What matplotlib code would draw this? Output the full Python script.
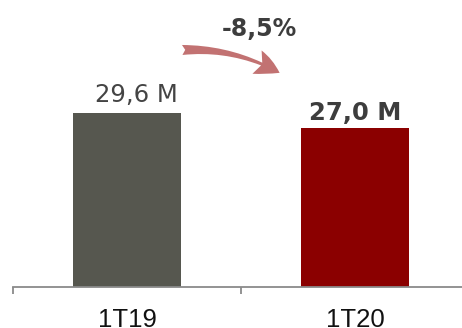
import matplotlib
matplotlib.use('Agg')
import matplotlib.pyplot as plt
from matplotlib.patches import FancyArrowPatch

# data
periods = ['1T19', '1T20']
values = [29.6, 27.0]
value_labels = ['29,6 M', '27,0 M']
change_label = '-8,5%'
bar_colors = ['#56574f', '#8b0000']

fig = plt.figure(figsize=(4.62, 3.28), dpi=100)
ax = fig.add_axes([13 / 462, 41 / 328, 456 / 462, 287 / 328])

x = range(len(periods))
ax.bar(x, values, width=0.47, color=bar_colors)

ax.set_xlim(-0.5, 1.5)
ax.set_ylim(0, 287 / 5.878)

# axis styling: only bottom line with separators between categories
for side in ['top', 'right', 'left']:
    ax.spines[side].set_visible(False)
ax.spines['bottom'].set_color('#8a8a8a')
ax.spines['bottom'].set_linewidth(1.3)
ax.set_yticks([])
ax.set_xticks(list(x))
ax.set_xticklabels(periods, fontsize=18.5, family='Liberation Sans', color='#111111')
ax.tick_params(axis='x', which='major', length=0, pad=15)
ax.set_xticks([-0.5, 0.5, 1.5], minor=True)
ax.tick_params(axis='x', which='minor', length=5, width=1.3, color='#8a8a8a')

# value labels
ax.text(0.04, 31.5, value_labels[0], ha='center', va='baseline',
        fontsize=17.5, color='#444444', family='DejaVu Sans')
ax.text(1.0, 28.4, value_labels[1], ha='center', va='baseline',
        fontsize=17.5, color='#3d3d3d', family='DejaVu Sans', fontweight='bold')

# change annotation with curved arrow
ax.text(0.58, 42.7, change_label, ha='center', va='baseline',
        fontsize=17, color='#3d3d3d', family='DejaVu Sans', fontweight='bold')
arrow = FancyArrowPatch((0.23, 40.3), (0.68, 36.2),
                        connectionstyle='arc3,rad=-0.15',
                        arrowstyle='fancy,head_length=1.0,head_width=1.0,tail_width=0.4',
                        mutation_scale=18, color='#c27272', lw=0)
ax.add_patch(arrow)

plt.savefig('out.png', dpi=100)
plt.close()
